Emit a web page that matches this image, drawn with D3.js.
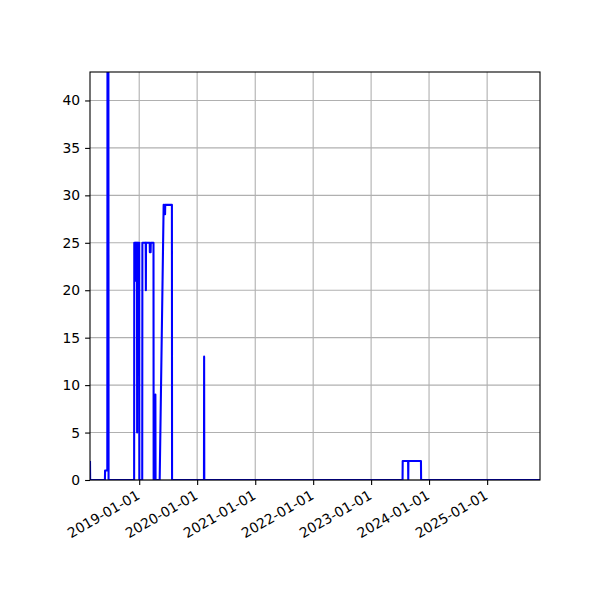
<!DOCTYPE html>
<html>
<head>
<meta charset="utf-8">
<script src="https://cdn.jsdelivr.net/npm/d3@7"></script>
<style>
  body { margin: 0; background: #fff; }
  svg text { font-family: "DejaVu Sans", sans-serif; }
</style>
</head>
<body>
<svg width="600" height="600"></svg>
<script>
// data
var dates = ["2018-02-25","2018-02-26","2018-05-30","2018-05-31","2018-06-14","2018-06-15","2018-06-21","2018-06-22",
  "2018-11-30","2018-12-01","2018-12-10","2018-12-11","2018-12-12","2018-12-18","2018-12-19","2018-12-20",
  "2019-01-01","2019-01-02","2019-01-20","2019-01-21","2019-02-11","2019-02-12","2019-02-13","2019-03-08",
  "2019-03-09","2019-03-14","2019-03-15","2019-04-01","2019-04-02","2019-04-12","2019-04-13","2019-04-14",
  "2019-05-10","2019-06-04","2019-06-07","2019-06-08","2019-06-13","2019-06-14","2019-07-26","2019-07-27",
  "2020-02-13","2020-02-14","2020-02-15","2023-07-18","2023-07-19","2023-08-22","2023-08-23","2023-08-24",
  "2023-11-11","2023-11-12","2025-11-30"];
var values = [2,0,0,1,1,43,43,0,
  0,25,25,21,25,25,5,25,
  25,0,0,25,25,20,25,25,
  24,24,25,25,0,0,9,0,
  0,29,29,28,28,29,29,0,
  0,13,0,0,2,2,0,2,
  2,0,0];
var yTicks = [0,5,10,15,20,25,30,35,40];
var xTickLabels = ["2019-01-01","2020-01-01","2021-01-01","2022-01-01","2023-01-01","2024-01-01","2025-01-01"];

var parseDate = d3.timeParse("%Y-%m-%d");

var svg = d3.select("svg"),
    margin = {top: 72, right: 60, bottom: 120, left: 90},
    width = +svg.attr("width") - margin.left - margin.right,
    height = +svg.attr("height") - margin.top - margin.bottom,
    g = svg.append("g").attr("transform", "translate(" + margin.left + "," + margin.top + ")");

var data = dates.map(function(d, i) { return {date: parseDate(d), value: values[i]}; });

// x軸: 時間
var x = d3.scaleTime()
    .domain(d3.extent(data, function(d) { return d.date; }))
    .range([0, width]);

var y = d3.scaleLinear()
    .domain([0, 43])
    .range([height, 0]);

svg.append("defs").append("clipPath")
    .attr("id", "clip")
    .append("rect")
    .attr("width", width)
    .attr("height", height);

// grid
g.append("g")
    .selectAll("line")
    .data(xTickLabels)
    .enter().append("line")
    .attr("x1", function(d) { return x(parseDate(d)); })
    .attr("x2", function(d) { return x(parseDate(d)); })
    .attr("y1", 0)
    .attr("y2", height)
    .attr("stroke", "#b0b0b0")
    .attr("stroke-width", 1.1);

g.append("g")
    .selectAll("line")
    .data(yTicks)
    .enter().append("line")
    .attr("x1", 0)
    .attr("x2", width)
    .attr("y1", function(d) { return y(d); })
    .attr("y2", function(d) { return y(d); })
    .attr("stroke", "#b0b0b0")
    .attr("stroke-width", 1.1);

// the line
var line = d3.line()
    .x(function(d) { return x(d.date); })
    .y(function(d) { return y(d.value); });

g.append("path")
    .datum(data)
    .attr("clip-path", "url(#clip)")
    .attr("fill", "none")
    .attr("stroke", "#0000ff")
    .attr("stroke-width", 2.08)
    .attr("stroke-linejoin", "round")
    .attr("d", line);

// y axis
var yAxis = g.append("g")
    .call(d3.axisLeft(y).tickValues(yTicks).tickSize(4.9).tickPadding(4.9).tickFormat(d3.format("d")));
yAxis.select(".domain").remove();
yAxis.selectAll("line").attr("stroke", "#000").attr("stroke-width", 1.1);
yAxis.selectAll("text")
    .style("font-family", "'DejaVu Sans', sans-serif")
    .style("font-size", "13.9px")
    .attr("fill", "#000");

// x axis, rotated labels
var xAxis = g.append("g")
    .attr("transform", "translate(0," + height + ")")
    .call(d3.axisBottom(x).tickValues(xTickLabels.map(parseDate)).tickSize(4.9).tickFormat(d3.timeFormat("%Y-%m-%d")));
xAxis.select(".domain").remove();
xAxis.selectAll("line").attr("stroke", "#000").attr("stroke-width", 1.1);
xAxis.selectAll("text")
    .style("font-family", "'DejaVu Sans', sans-serif")
    .style("font-size", "13.9px")
    .attr("fill", "#000")
    .attr("text-anchor", "end")
    .attr("y", 0)
    .attr("dy", "0.75em")
    .attr("transform", "translate(-4,9) rotate(-30)");

// frame
g.append("rect")
    .attr("width", width)
    .attr("height", height)
    .attr("fill", "none")
    .attr("stroke", "#000")
    .attr("stroke-width", 1.1);
</script>
</body>
</html>
